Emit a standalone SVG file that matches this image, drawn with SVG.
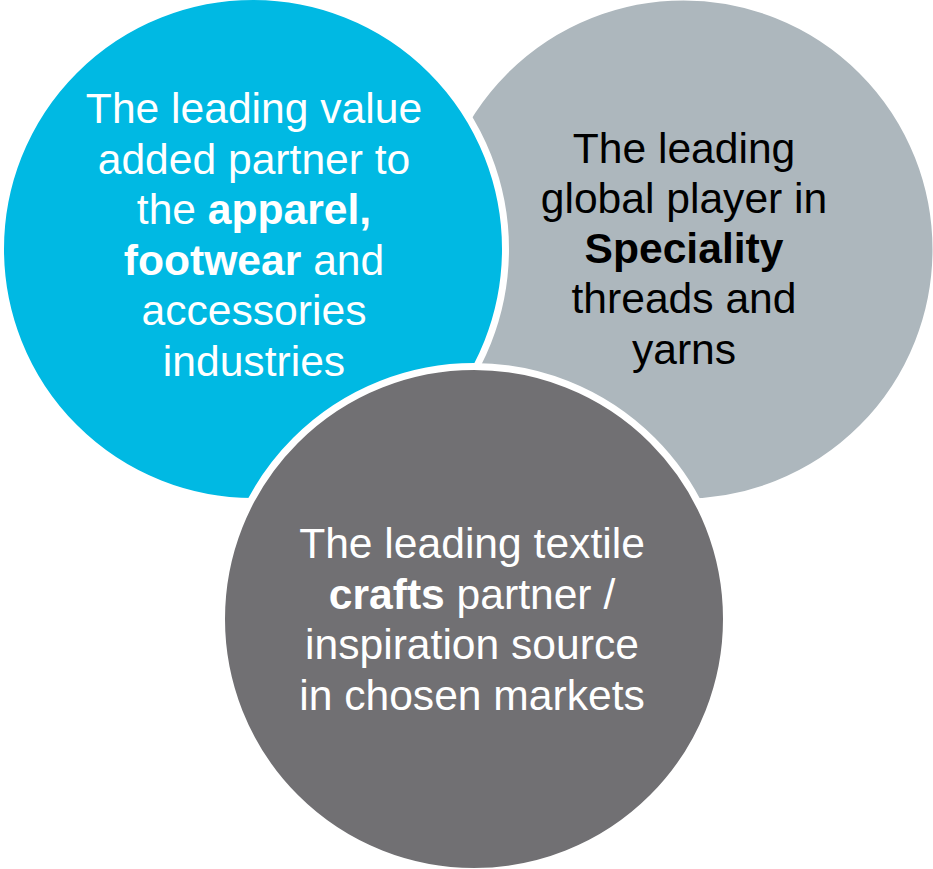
<svg xmlns="http://www.w3.org/2000/svg" width="933" height="869" viewBox="0 0 933 869">
  <style>
    .ring { stroke: #ffffff; stroke-width: 7; }
    .label { font-family: "Liberation Sans", Arial, sans-serif; font-size: 42.6px; text-anchor: middle; }
    .light { fill: #ffffff; }
    .dark { fill: #000000; }
    .b { font-weight: bold; }
  </style>
  <rect width="933" height="869" fill="#ffffff"/>

  <!-- threads and yarns (back) -->
  <g id="node-speciality">
    <circle class="ring" cx="683.5" cy="249.5" r="252.5" fill="#ADB7BD"/>
    <text class="label dark" x="684" y="163">The leading</text>
    <text class="label dark" x="684" y="213">global player in</text>
    <text class="label dark b" x="684" y="263">Speciality</text>
    <text class="label dark" x="684" y="313">threads and</text>
    <text class="label dark" x="684" y="364">yarns</text>
  </g>

  <!-- apparel, footwear and accessories -->
  <g id="node-apparel">
    <circle class="ring" cx="253" cy="249" r="252.5" fill="#00B9E3"/>
    <text class="label light" x="254" y="123">The leading value</text>
    <text class="label light" x="254" y="173.5">added partner to</text>
    <text class="label light" x="254" y="224">the <tspan class="b">apparel,</tspan></text>
    <text class="label light" x="254" y="274.5"><tspan class="b">footwear</tspan> and</text>
    <text class="label light" x="254" y="325">accessories</text>
    <text class="label light" x="254" y="376">industries</text>
  </g>

  <!-- textile crafts (front) -->
  <g id="node-crafts">
    <circle class="ring" cx="474" cy="619" r="252.5" fill="#717073"/>
    <text class="label light" x="472" y="558">The leading textile</text>
    <text class="label light" x="472" y="608.5"><tspan class="b">crafts</tspan> partner /</text>
    <text class="label light" x="472" y="659">inspiration source</text>
    <text class="label light" x="472" y="709.5">in chosen markets</text>
  </g>

  <g id="connectors"/>
</svg>
